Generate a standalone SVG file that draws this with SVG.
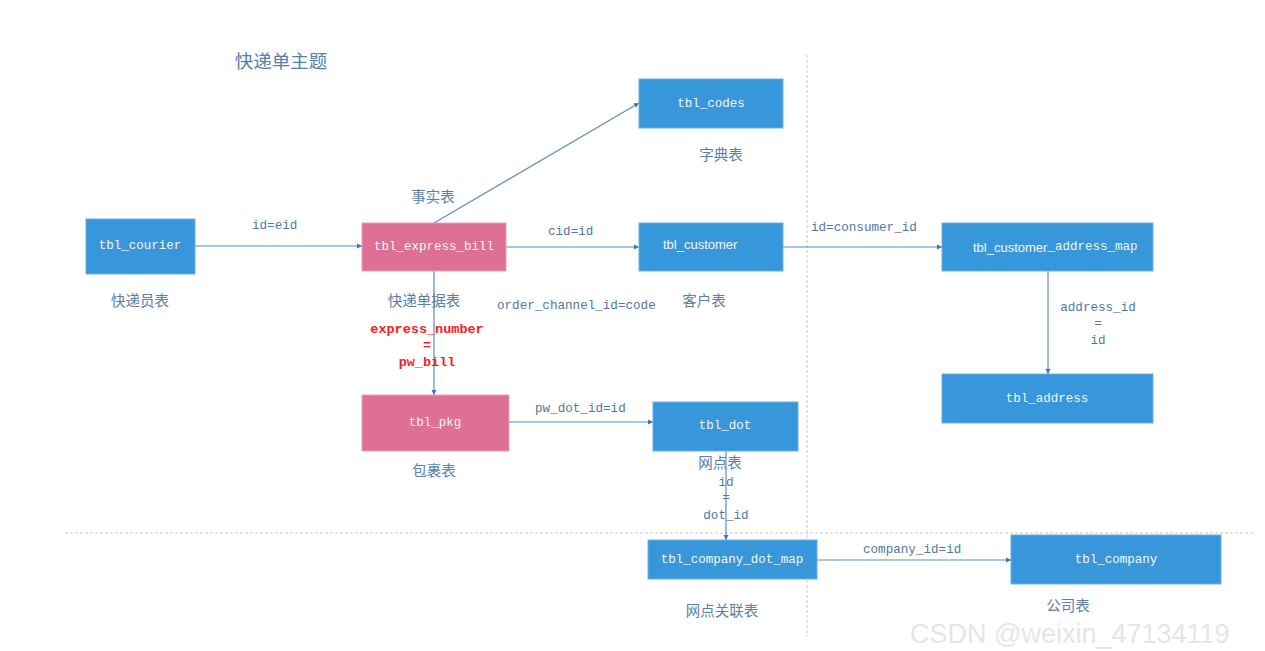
<svg xmlns="http://www.w3.org/2000/svg" width="1265" height="651" viewBox="0 0 1265 651">
<style>
.blue{fill:#3897DB;stroke:#6AB0E6;stroke-width:1}
.pink{fill:#DE7093;stroke:#EBA0B8;stroke-width:1}
.nt{font-family:"Liberation Mono",monospace;font-size:12.5px;fill:#F2F6FA;text-anchor:middle;dominant-baseline:central}
.ns{font-family:"Liberation Sans",sans-serif;font-size:13px;fill:#F2F6FA;dominant-baseline:central}
.lb{font-family:"Liberation Mono",monospace;font-size:12.6px;fill:#4F77A3;dominant-baseline:central}
.cn{font-family:"Noto Sans CJK SC",sans-serif;font-size:14.5px;fill:#5B7FA8;text-anchor:middle;dominant-baseline:central}
.red{font-family:"Liberation Mono",monospace;font-size:13.5px;font-weight:bold;fill:#FF1A1A;text-anchor:middle;dominant-baseline:central}
.ln{stroke:#5B8EC2;stroke-width:1.2;fill:none;marker-end:url(#ah)}
.dash{stroke:#C8C8C8;stroke-width:1;stroke-dasharray:3,2;fill:none}
</style>
<defs>
<marker id="ah" markerWidth="6" markerHeight="6" refX="5" refY="3" orient="auto" markerUnits="userSpaceOnUse">
<path d="M0,0.5 L5,3 L0,5.5 Z" fill="#3F76AE"/>
</marker>
</defs>
<rect width="1265" height="651" fill="#FFFFFF"/>
<g id="guides">
<line class="dash" x1="807" y1="55" x2="807" y2="636"/>
<line class="dash" x1="65" y1="533" x2="1255" y2="533"/>
</g>
<text x="281" y="60" font-family="Noto Sans CJK SC,sans-serif" font-size="18.5" fill="#5580AE" text-anchor="middle" dominant-baseline="central">快递单主题</text>
<g id="connectors">
<line class="ln" x1="194" y1="246" x2="362" y2="246"/>
<line class="ln" x1="434" y1="223" x2="639" y2="103"/>
<line class="ln" x1="506" y1="247" x2="639" y2="247"/>
<line class="ln" x1="783" y1="247" x2="942" y2="247"/>
<line class="ln" x1="434" y1="271" x2="434" y2="395"/>
<line class="ln" x1="1048" y1="271" x2="1048" y2="374"/>
<line class="ln" x1="509" y1="422" x2="653" y2="422"/>
<line class="ln" x1="726" y1="451" x2="726" y2="540"/>
<line class="ln" x1="817" y1="560" x2="1011" y2="560"/>
<text class="lb" x="252" y="226">id=eid</text>
<text class="lb" x="548" y="232">cid=id</text>
<text class="lb" x="497" y="306">order_channel_id=code</text>
<text class="lb" x="811" y="228">id=consumer_id</text>
<text class="lb" x="1098" y="308" text-anchor="middle">address_id</text>
<text class="lb" x="1098" y="324" text-anchor="middle">=</text>
<text class="lb" x="1098" y="341" text-anchor="middle">id</text>
<text class="lb" x="535" y="409">pw_dot_id=id</text>
<text class="lb" x="726" y="483" text-anchor="middle">id</text>
<text class="lb" x="726" y="498" text-anchor="middle">=</text>
<text class="lb" x="726" y="516" text-anchor="middle">dot_id</text>
<text class="lb" x="863" y="550">company_id=id</text>
<text class="red" x="427" y="329">express_number</text>
<text class="red" x="427" y="345">=</text>
<text class="red" x="427" y="362">pw_bill</text>
</g>
<g id="tbl_courier">
<rect class="blue" x="86" y="219" width="109" height="55"/>
<text class="nt" x="140" y="246">tbl_courier</text>
<text class="cn" x="140" y="299">快递员表</text>
</g>
<g id="tbl_express_bill">
<rect class="pink" x="362" y="223" width="144" height="48"/>
<text class="nt" x="434" y="247">tbl_express_bill</text>
<text class="cn" x="433" y="195">事实表</text>
<text class="cn" x="424" y="299">快递单据表</text>
</g>
<g id="tbl_codes">
<rect class="blue" x="639" y="79" width="144" height="49"/>
<text class="nt" x="711" y="104">tbl_codes</text>
<text class="cn" x="721" y="153">字典表</text>
</g>
<g id="tbl_customer">
<rect class="blue" x="639" y="223" width="144" height="48"/>
<text class="ns" x="663" y="244">tbl_customer</text>
<text class="cn" x="704" y="299">客户表</text>
</g>
<g id="tbl_customer_address_map">
<rect class="blue" x="942" y="223" width="211" height="48"/>
<text class="ns" x="973" y="247">tbl_customer<tspan font-family="Liberation Mono,monospace" font-size="12.5">_address_map</tspan></text>
</g>
<g id="tbl_address">
<rect class="blue" x="942" y="374" width="211" height="49"/>
<text class="nt" x="1047" y="399">tbl_address</text>
</g>
<g id="tbl_pkg">
<rect class="pink" x="362" y="395" width="147" height="56"/>
<text class="nt" x="435" y="423">tbl_pkg</text>
<text class="cn" x="434" y="469">包裹表</text>
</g>
<g id="tbl_dot">
<rect class="blue" x="653" y="402" width="145" height="49"/>
<text class="nt" x="725" y="426">tbl_dot</text>
<text class="cn" x="720" y="461">网点表</text>
</g>
<g id="tbl_company_dot_map">
<rect class="blue" x="648" y="540" width="169" height="39"/>
<text class="nt" x="732" y="560">tbl_company_dot_map</text>
<text class="cn" x="722" y="609">网点关联表</text>
</g>
<g id="tbl_company">
<rect class="blue" x="1011" y="535" width="210" height="49"/>
<text class="nt" x="1116" y="560">tbl_company</text>
<text class="cn" x="1068" y="604">公司表</text>
</g>
<text x="910" y="634" font-family="Liberation Sans,sans-serif" font-size="27" fill="#E6E6E6" dominant-baseline="central">CSDN @weixin_47134119</text>
</svg>
